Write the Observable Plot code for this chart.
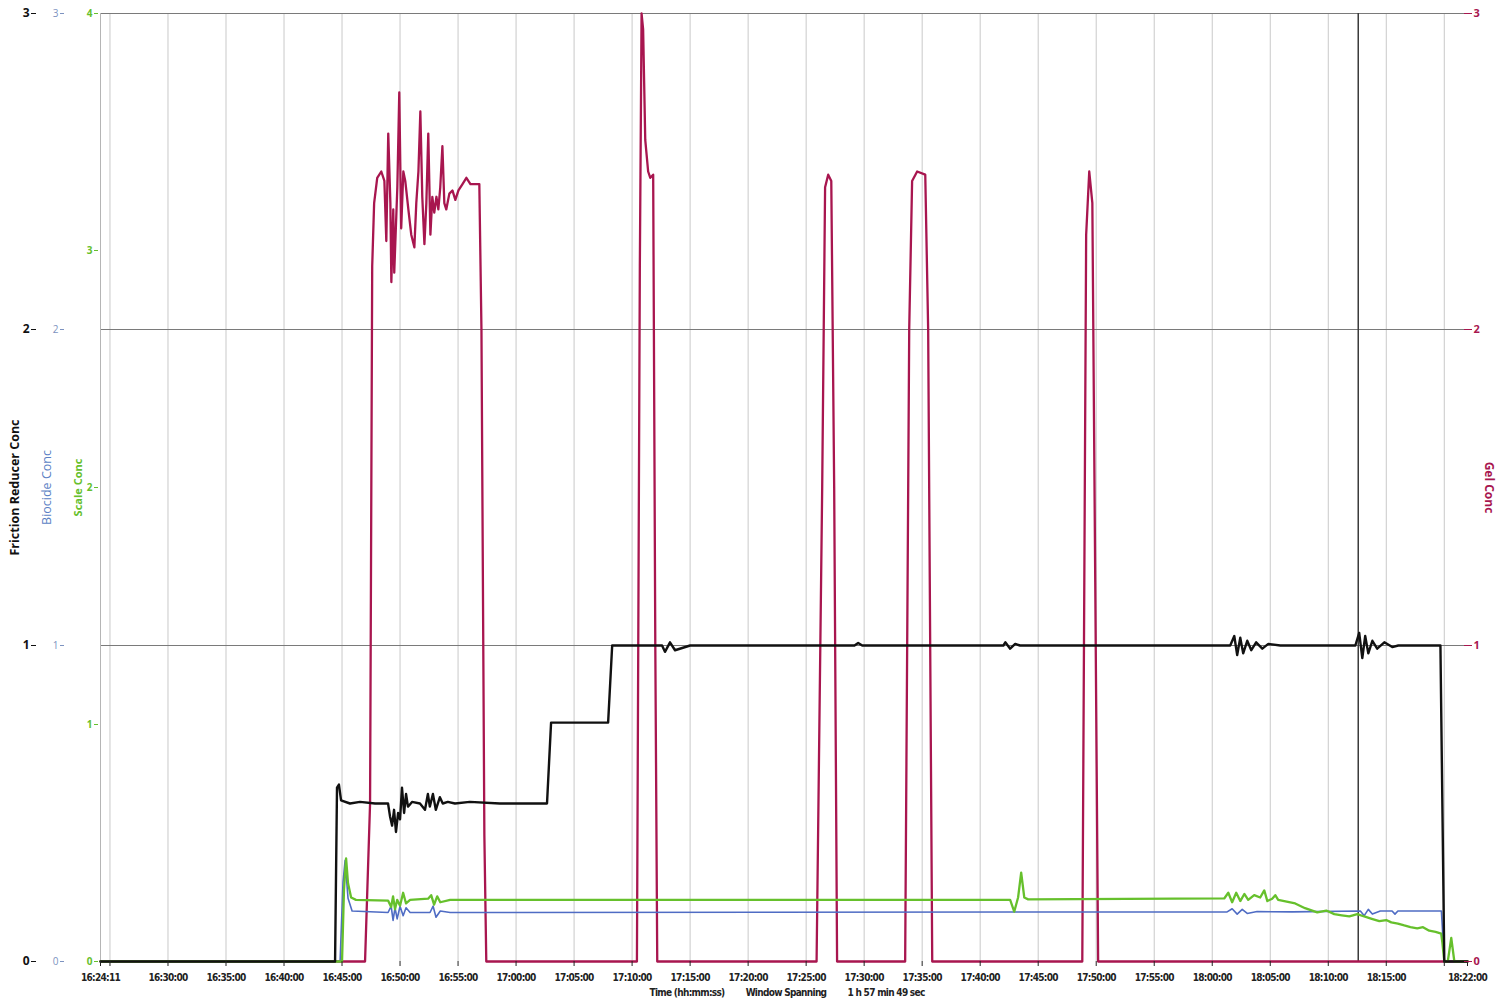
<!DOCTYPE html>
<html><head><meta charset="utf-8">
<script src="https://cdn.jsdelivr.net/npm/d3@7"></script>
<script src="https://cdn.jsdelivr.net/npm/@observablehq/plot@0.6"></script>
<style>
html,body{margin:0;padding:0;background:#fff;}
#chart svg{display:block;}
g[aria-label="x-axis tick label"] text, g.caption text {letter-spacing:-0.7px;}
</style></head><body><div id="chart"></div>
<script>
// ---- Data ----
const startTime = "16:24:11";
const endTime = "18:22:00";
const cursorTime = "18:12:35";

const frictionTimes = ["16:24:11","16:44:24","16:44:34","16:44:44","16:44:55","16:45:41","16:46:33","16:47:51","16:48:58","16:49:08","16:49:19","16:49:29","16:49:39","16:49:50","16:50:00","16:50:10","16:50:21","16:50:31","16:50:41","16:51:02","16:51:43","16:52:09","16:52:24","16:52:34","16:52:50","16:53:05","16:53:26","16:53:41","16:54:07","16:54:44","16:56:01","16:58:36","17:02:40","17:03:01","17:07:56","17:08:17","17:10:41","17:12:35","17:12:50","17:13:16","17:13:42","17:15:00","17:20:11","17:29:10","17:29:29","17:29:50","17:42:00","17:42:10","17:42:35","17:43:01","17:43:26","18:01:33","18:01:54","18:02:09","18:02:25","18:02:40","18:03:01","18:03:22","18:03:47","18:04:19","18:04:50","18:05:52","18:12:20","18:12:40","18:12:56","18:13:11","18:13:27","18:13:48","18:14:13","18:14:50","18:15:31","18:16:02","18:19:40","18:20:00","18:22:00"];
const frictionValues = [0,0,0.55,0.56,0.51,0.50,0.505,0.50,0.50,0.46,0.43,0.48,0.41,0.47,0.45,0.55,0.47,0.53,0.49,0.505,0.50,0.48,0.53,0.49,0.53,0.48,0.52,0.50,0.505,0.50,0.505,0.50,0.50,0.756,0.756,1.0,1.0,1.0,0.98,1.01,0.985,1.0,1.0,1.0,1.008,1.0,1.0,1.01,0.99,1.005,1.0,1.0,1.03,0.97,1.025,0.975,1.015,0.985,1.01,0.99,1.005,1.0,1.0,1.04,0.96,1.03,0.975,1.015,0.99,1.01,0.995,1.0,1.0,0,0];

const biocideTimes = ["16:24:11","16:44:50","16:45:05","16:45:16","16:45:31","16:45:52","16:48:58","16:49:14","16:49:24","16:49:34","16:49:45","16:50:00","16:50:16","16:50:31","16:50:52","16:52:35","16:52:51","16:53:06","16:53:28","16:54:19","18:01:17","18:01:43","18:02:09","18:02:35","18:03:01","18:03:52","18:06:53","18:12:46","18:13:06","18:13:27","18:13:48","18:14:29","18:15:30","18:15:45","18:16:00","18:19:45","18:20:00","18:22:00"];
const biocideValues = [0,0,0.25,0.32,0.20,0.16,0.155,0.175,0.13,0.17,0.135,0.175,0.145,0.17,0.155,0.155,0.175,0.14,0.16,0.155,0.157,0.167,0.15,0.165,0.152,0.158,0.157,0.16,0.145,0.165,0.15,0.16,0.16,0.15,0.16,0.16,0,0];

// Scale Conc is read on its own 0–4 axis
const scaleTimes = ["16:24:11","16:45:00","16:45:10","16:45:21","16:45:31","16:45:47","16:46:12","16:48:58","16:49:14","16:49:24","16:49:34","16:49:45","16:50:00","16:50:16","16:50:31","16:50:52","16:52:25","16:52:41","16:52:56","16:53:12","16:53:28","16:54:19","17:42:35","17:42:56","17:43:16","17:43:32","17:43:48","17:44:08","18:01:02","18:01:23","18:01:43","18:02:04","18:02:25","18:02:46","18:03:06","18:03:37","18:04:08","18:04:29","18:04:45","18:05:10","18:05:26","18:05:41","18:07:09","18:08:00","18:09:03","18:09:50","18:10:31","18:11:10","18:11:49","18:12:30","18:13:06","18:13:45","18:14:24","18:15:00","18:15:26","18:16:00","18:16:33","18:17:05","18:17:40","18:18:10","18:18:42","18:19:15","18:19:44","18:19:50","18:20:00","18:20:18","18:20:36","18:20:52","18:22:00"];
const scaleValues = [0,0,0.30,0.435,0.33,0.27,0.26,0.257,0.23,0.275,0.22,0.26,0.235,0.29,0.245,0.26,0.265,0.28,0.24,0.275,0.25,0.26,0.26,0.21,0.27,0.375,0.27,0.262,0.266,0.29,0.25,0.29,0.255,0.285,0.26,0.28,0.27,0.30,0.255,0.265,0.28,0.26,0.245,0.225,0.207,0.215,0.20,0.195,0.19,0.2,0.19,0.18,0.17,0.175,0.165,0.16,0.152,0.145,0.14,0.145,0.13,0.125,0.118,0.08,0,0,0.10,0,0];

const gelTimes = ["16:24:11","16:46:59","16:47:25","16:47:36","16:47:46","16:48:02","16:48:23","16:48:39","16:48:49","16:48:59","16:49:10","16:49:15","16:49:25","16:49:30","16:49:46","16:49:56","16:50:06","16:50:17","16:50:27","16:50:43","16:50:58","16:51:14","16:51:24","16:51:35","16:51:45","16:51:55","16:52:06","16:52:16","16:52:26","16:52:37","16:52:47","16:52:57","16:53:08","16:53:18","16:53:28","16:53:39","16:53:49","16:53:59","16:54:15","16:54:31","16:54:46","16:55:02","16:55:23","16:55:43","16:56:04","16:56:50","16:57:01","16:57:16","16:57:26","17:10:25","17:10:40","17:10:49","17:10:57","17:11:08","17:11:23","17:11:34","17:11:49","17:12:00","17:12:10","17:25:54","17:26:23","17:26:38","17:26:54","17:27:10","17:27:25","17:27:40","17:33:32","17:33:53","17:34:08","17:34:34","17:35:16","17:35:31","17:35:52","17:48:48","17:49:08","17:49:24","17:49:40","17:49:55","17:50:10","18:22:00"];
const gelValues = [0,0,0.5,2.2,2.4,2.48,2.5,2.47,2.28,2.62,2.4,2.15,2.38,2.18,2.45,2.75,2.32,2.5,2.47,2.38,2.3,2.26,2.4,2.5,2.69,2.42,2.27,2.4,2.62,2.3,2.42,2.37,2.42,2.38,2.45,2.58,2.4,2.38,2.43,2.44,2.41,2.44,2.46,2.48,2.46,2.46,2.0,0.4,0,0,2.2,3.0,2.95,2.6,2.5,2.48,2.49,1.0,0,0,1.5,2.45,2.49,2.47,1.5,0,0,2.0,2.47,2.5,2.49,2.0,0,0,2.3,2.5,2.4,1.2,0,0];

const xTickTimes = ["16:24:11","16:25:00","16:30:00","16:35:00","16:40:00","16:45:00","16:50:00","16:55:00","17:00:00","17:05:00","17:10:00","17:15:00","17:20:00","17:25:00","17:30:00","17:35:00","17:40:00","17:45:00","17:50:00","17:55:00","18:00:00","18:05:00","18:10:00","18:15:00","18:20:00","18:22:00"];
const xTickLabels = ["16:24:11","","16:30:00","16:35:00","16:40:00","16:45:00","16:50:00","16:55:00","17:00:00","17:05:00","17:10:00","17:15:00","17:20:00","17:25:00","17:30:00","17:35:00","17:40:00","17:45:00","17:50:00","17:55:00","18:00:00","18:05:00","18:10:00","18:15:00","","18:22:00"];
const gridTimes = xTickTimes.slice(1, -1);

const frictionTicks = [0,1,2,3];
const biocideTicks = [0,1,2,3];
const scaleTicks = [0,1,2,3,4];
const gelTicks = [0,1,2,3];
const scaleMax = 4, leftMax = 3;

const captionParts = ["Time (hh:mm:ss)", "Window Spanning", "1 h 57 min 49 sec"];

// ---- Build ----
const parse = d3.utcParse("%H:%M:%S");
const k = leftMax / scaleMax;
const rows = (times, values, f = 1) => times.map((t, i) => ({t: parse(t), v: values[i] * f}));
const friction = rows(frictionTimes, frictionValues);
const biocide = rows(biocideTimes, biocideValues);
const scaleC = rows(scaleTimes, scaleValues, k);
const gel = rows(gelTimes, gelValues);
const labelMap = new Map(xTickTimes.map((t, i) => [+parse(t), xTickLabels[i]]));

const narrow = "'Liberation Sans Narrow','DejaVu Sans Condensed',sans-serif";
const cBlack = "#111", cBlue = "#4f6cc4", cGreen = "#66c02c", cGel = "#a8164f";

const caption = (i, dx) => Plot.text([captionParts[i]], {text: d => d, frameAnchor: "bottom", dx, dy: 34, textAnchor: "middle",
  fontSize: 10, fontWeight: "bold", fontFamily: narrow, fill: "#222", className: "caption"});

const chart = Plot.plot({
  width: 1504, height: 1006,
  marginLeft: 100, marginRight: 37, marginTop: 13, marginBottom: 45,
  style: {background: "#fff", fontFamily: "'Open Sans',sans-serif"},
  x: {type: "utc", domain: [parse(startTime), parse(endTime)], label: null},
  y: {domain: [0, 3], label: null},
  marks: [
    Plot.gridX(gridTimes.map(parse), {stroke: "#c9c9c9", strokeOpacity: 1}),
    Plot.gridY([1, 2, 3], {stroke: "#7a7a7a", strokeOpacity: 1}),
    Plot.ruleX([parse(startTime)], {stroke: "#b5b5b5"}),
    Plot.ruleX([parse(cursorTime)], {stroke: "#3a3a3a", strokeWidth: 1.5}),
    Plot.line(gel, {x: "t", y: "v", stroke: cGel, strokeWidth: 2.3}),
    Plot.line(biocide, {x: "t", y: "v", stroke: cBlue, strokeWidth: 1.6}),
    Plot.line(scaleC, {x: "t", y: "v", stroke: cGreen, strokeWidth: 2.3}),
    Plot.line(friction, {x: "t", y: "v", stroke: cBlack, strokeWidth: 2.4}),
    Plot.axisX({ticks: xTickTimes.map(parse), tickFormat: d => labelMap.get(+d), tickSize: 5, tickPadding: 7,
      fontSize: 10, fontWeight: "bold", fontFamily: narrow, color: "#222", label: null}),
    Plot.axisY({anchor: "left", ticks: frictionTicks, tickFormat: d => String(d), tickSize: 5, tickPadding: 2, dx: -64,
      fontSize: 12, fontWeight: "bold", color: cBlack, label: null}),
    Plot.axisY({anchor: "left", ticks: biocideTicks, tickFormat: d => String(d), tickSize: 4, tickPadding: 2, dx: -36,
      fontSize: 10, color: "#7d93c0", label: null}),
    Plot.axisY({anchor: "left", ticks: scaleTicks.map(d => d * k), tickFormat: d => String(Math.round(d / k)), tickSize: 4, tickPadding: 2, dx: -2,
      fontSize: 10, fontWeight: "bold", color: cGreen, label: null}),
    Plot.axisY({anchor: "right", ticks: gelTicks, tickFormat: d => String(d), tickSize: 8, tickPadding: 2, dx: -4,
      fontSize: 11, fontWeight: "bold", color: cGel, label: null}),
    Plot.text(["Friction Reducer Conc"], {text: d => d, frameAnchor: "left", dx: -86, rotate: -90, textAnchor: "middle", fontSize: 12.5, fontWeight: "bold", fill: cBlack}),
    Plot.text(["Biocide Conc"], {text: d => d, frameAnchor: "left", dx: -54, rotate: -90, textAnchor: "middle", fontSize: 12.5, fill: "#5b7fc4"}),
    Plot.text(["Scale Conc"], {text: d => d, frameAnchor: "left", dx: -22, rotate: -90, textAnchor: "middle", fontSize: 11, fontWeight: "bold", fill: cGreen}),
    Plot.text(["Gel Conc"], {text: d => d, frameAnchor: "right", dx: 21, rotate: 90, textAnchor: "middle", fontSize: 12, fontWeight: "bold", fill: cGel}),
    caption(0, -97), caption(1, 2), caption(2, 102)
  ]
});
document.getElementById("chart").append(chart);
</script>
</body></html>
